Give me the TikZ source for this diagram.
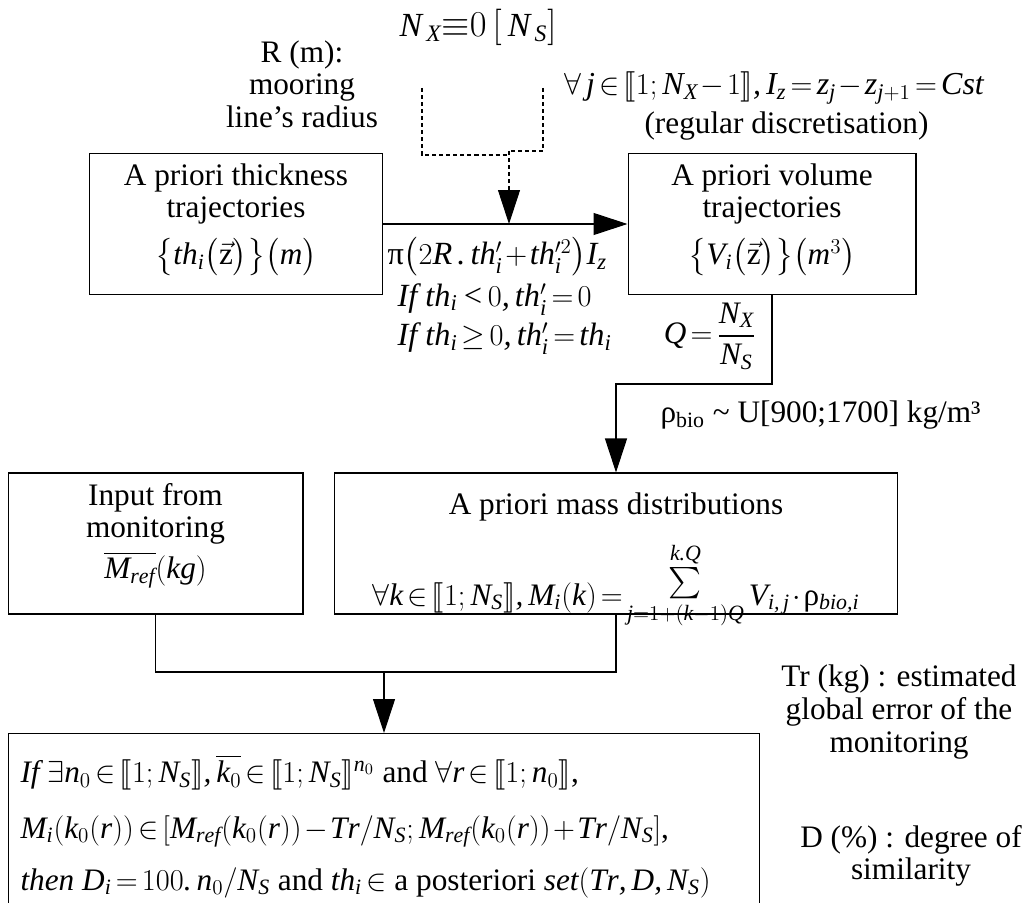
\documentclass[tikz,border=0pt]{standalone}
\usepackage{amsmath,amssymb,stmaryrd}
\usepackage{fontspec}
\setmainfont{Liberation Serif}
\newfontfamily\libserif{Liberation Serif}[NFSSFamily=libmath]
% Formelbuchstaben wie im Original (Serifenschrift kursiv)
\DeclareSymbolFont{letters}{TU}{libmath}{m}{it}
\DeclareSymbolFont{operators}{TU}{libmath}{m}{n}
\DeclareSymbolFont{cmlet}{OML}{cmm}{m}{it}
\DeclareMathAccent{\vec}{\mathord}{cmlet}{"7E}
\DeclareMathAlphabet{\mathit}{TU}{libmath}{m}{it}
\DeclareMathAlphabet{\mathrm}{TU}{libmath}{m}{n}
\mathcode`,="612C
\mathcode`.="012E
\mathcode`/="012F
\Umathchardef\uppi="0 \symoperators "3C0
\Umathchardef\uprho="0 \symoperators "3C1
\thickmuskip=2.5mu plus 1mu
\medmuskip=1.5mu plus 1mu
\usetikzlibrary{arrows.meta,positioning}
\tikzset{
  every picture/.style={line width=0.6pt, line join=miter,
    >={Triangle[length=0.68cm,width=0.44cm]}},
  every node/.style={font=\fontsize{17.8}{18.6}\selectfont},
  % Kästen und Texte
  box/.style={draw, inner sep=0pt},
  lbl/.style={align=center, inner sep=0pt},
  bigmath/.style={font=\fontsize{19.2}{19.6}\selectfont},
  % Linientypen
  aux/.style={dash pattern=on 2.3pt off 1.7pt},
}

\begin{document}
\begin{tikzpicture}[x=0.02cm, y=-0.02cm]
  \useasboundingbox (0,0) rectangle (1030,902);
  \clip (0,0) rectangle (1030,902);

  % obere Reihe
  \node[box, minimum width=5.86cm, minimum height=2.82cm] (thick) at (236,224) {};
  \node[lbl, below=0.2cm of thick.north] (thicktxt)
    {A priori thickness\\trajectories\\[7pt]$\bigl\{th_i\bigl(\vec{\mathrm{z}}\bigr)\bigr\}\bigl(m\bigr)$};
  \node[box, minimum width=5.76cm, minimum height=2.82cm] (vol) at (772,224) {};
  \node[lbl, below=0.2cm of vol.north] (voltxt)
    {A priori volume\\trajectories\\[7pt]$\bigl\{V_i\bigl(\vec{\mathrm{z}}\bigr)\bigr\}\bigl(m^3\bigr)$};

  % Eingaben oben
  \node[lbl, bigmath] (nx) at (478,27) {$N_{\,X}{\equiv}0\,[\,N_{\,S}]$};
  \node[lbl] (rad) at (302,84) {R (m):\\mooring\\line’s radius};
  \node[lbl, font=\fontsize{18.2}{19}\selectfont] (disc) at (774,106)
    {$\forall\, j\in\llbracket 1;N_X-1\rrbracket, I_z=z_j-z_{j+1}=Cst$\\[3pt]
     {\fontsize{17.8}{18.6}\selectfont\hspace*{0.8em}(regular discretisation)}};
  \coordinate (rin) at (422,88);
  \coordinate (jin) at (543,88);
  \coordinate (dj) at (509,155);
  \coordinate (dk) at (509,151);
  \draw[aux] (rin) |- (dj);
  \draw[aux] (jin) |- (dk);
  \draw[aux, ->] (dk) -- (dk |- thick.east);
  \draw[->] (thick.east) -- (vol.west);
  \node[inner sep=0pt, align=left, anchor=north west, font=\fontsize{18.4}{19.4}\selectfont] (vform) at (387,237)
    {$\uppi\bigl(2R\,.\,th^{\prime}_i+th^{\prime 2}_i\bigr)I_z$\\[3pt]
     \hspace*{0.2cm}$\mathit{If}\ th_i<0, th^{\prime}_i=0$\\[3pt]
     \hspace*{0.2cm}$\mathit{If}\ th_i\geq 0, th^{\prime}_i=th_i$};

  % Masse
  \node[box, minimum width=5.9cm, minimum height=2.82cm] (mon) at (155.5,543.5) {};
  \node[lbl, below=0.2cm of mon.north] (montxt)
    {Input from\\monitoring\\[3pt]$\overline{M_{ref}}(kg)$};
  \node[box, minimum width=11.28cm, minimum height=2.82cm] (mass) at (616,543.5) {};
  \node[lbl, below=0.4cm of mass.north] (masstxt)
    {A priori mass distributions\\[11pt]
     $\forall k\in\llbracket 1;N_S\rrbracket, M_i(k)=\raisebox{8pt}{$\sum\limits_{j=1+(k-1)Q}^{k.Q}$}\,V_{i,\,j}\cdot\uprho_{bio,i}$};
  \coordinate (qbend) at (772,384);
  \draw[->] (vol.south) -- (qbend) -| (mass.north);
  \node[lbl] (qlbl) at (710,336) {$Q=\dfrac{N_X}{N_S}$};
  \node[lbl, anchor=west] (rho) at (660,415)
    {ρ\textsubscript{bio} \textasciitilde{} U[900;1700] kg/m³};

  % Ergebnis
  \node[box, minimum width=15.04cm, minimum height=4cm, anchor=north] (res) at (384,733) {};
  \coordinate (mj) at (384,672);
  \draw (mon.south) |- (mj);
  \draw (mass.south) |- (mj);
  \draw[->] (mj) -- (res.north);
  \node[inner sep=0pt, align=left, anchor=north west] (restxt) at (20,754)
    {$\mathit{If}\ \exists n_0\in\llbracket 1;N_S\rrbracket, \overline{k_0}\in\llbracket 1;N_S\rrbracket^{n_0}$ and $\forall r\in\llbracket 1;n_0\rrbracket$,\\[13pt]
     $M_i(k_0(r))\in[M_{ref}(k_0(r))-Tr/N_S; M_{ref}(k_0(r))+Tr/N_S]$,\\[11pt]
     $\mathit{then}\ D_i=100.\,n_0/N_S$ and $th_i\in$ a posteriori $\mathit{set}(Tr,D,N_S)$};

  % Hinweise rechts
  \node[lbl] (trnote) at (899,712) {Tr (kg) : estimated\\global error of the\\monitoring};
  \node[lbl] (dnote) at (911,856) {D (\%) : degree of\\similarity};
\end{tikzpicture}
\end{document}
